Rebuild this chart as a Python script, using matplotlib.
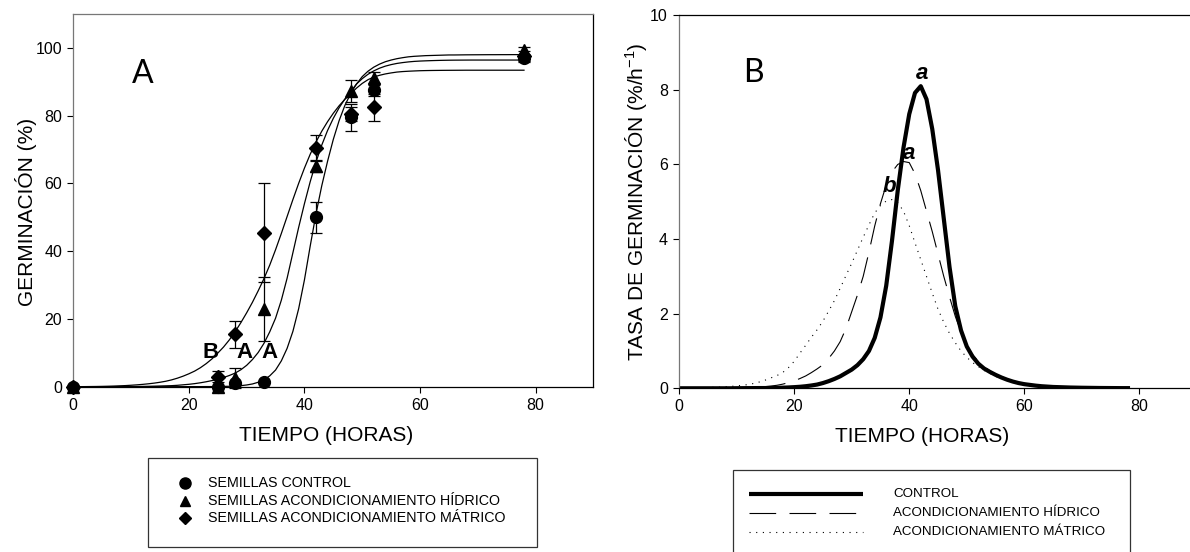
import numpy as np
import matplotlib.pyplot as plt
from matplotlib.lines import Line2D
from matplotlib.patches import Rectangle

plt.rcParams['font.family'] = ['Liberation Sans', 'DejaVu Sans']
plt.rcParams['mathtext.fontset'] = 'custom'
plt.rcParams['mathtext.rm'] = 'Liberation Sans'

# ---- panel A: observed germination (%)
t_obs = [0, 25, 28, 33, 42, 48, 52, 78]
ctrl_obs = [0, 0, 1, 1.5, 50, 79.5, 87.7, 96.9]
ctrl_err = [0, 0, 0, 0, 4.5, 4, 2, 1]
hid_obs = [0, 0, 2.5, 23, 65, 87.3, 91, 99.3]
hid_err = [0, 0, 3, 9.5, 1.5, 3.2, 1.9, 1]
mat_obs = [0, 3, 15.5, 45.5, 70.5, 80.5, 82.5, 97.5]
mat_err = [0, 1.5, 4, 14.6, 3.7, 2, 4, 1.5]

# fitted curves, one value per hour (0..78 h)
horas = list(range(79))
ctrl_fit = [0, 0, 0, 0, 0, 0, 0, 0, 0, 0,
            0, 0, 0, 0, 0, 0, 0, 0, 0, 0.01,
            0.01, 0.02, 0.02, 0.03, 0.03, 0.05, 0.08, 0.12, 0.2, 0.3,
            0.5, 0.8, 1.3, 2.0, 3.2, 4.9, 7.6, 11.3, 16.3, 23,
            31.5, 41.5, 51, 59.3, 66.5, 73, 78.5, 83, 86.5, 89.3,
            91.5, 93.1, 94.3, 95.2, 95.9, 96.4, 96.8, 97.1, 97.35, 97.5,
            97.6, 97.7, 97.75, 97.8, 97.85, 97.9, 97.9, 97.92, 97.94, 97.95,
            97.96, 97.97, 97.98, 97.98, 97.99, 97.99, 98, 98, 98]
hid_fit = [0, 0, 0, 0, 0.01, 0.01, 0.01, 0.02, 0.02, 0.03,
           0.04, 0.06, 0.08, 0.11, 0.15, 0.2, 0.25, 0.3, 0.4, 0.55,
           0.7, 0.9, 1.15, 1.45, 1.8, 2.2, 2.7, 3.3, 4.0, 5.0,
           6.3, 8.0, 10.1, 12.8, 16.2, 20.2, 25.5, 32, 39.5, 47,
           54, 60.5, 66.3, 71.3, 75.6, 79.2, 82.3, 84.9, 87.1, 89.3,
           90.9, 92.2, 93.2, 94.0, 94.6, 95.05, 95.4, 95.65, 95.85, 96.0,
           96.1, 96.17, 96.23, 96.28, 96.32, 96.35, 96.37, 96.38, 96.39, 96.4,
           96.4, 96.4, 96.4, 96.4, 96.4, 96.4, 96.4, 96.4, 96.4]
mat_fit = [0, 0.01, 0.02, 0.04, 0.06, 0.09, 0.13, 0.18, 0.25, 0.32,
           0.42, 0.54, 0.68, 0.85, 1.05, 1.3, 1.6, 2.0, 2.5, 3.1,
           3.8, 4.6, 5.6, 6.8, 8.2, 9.9, 11.7, 13.8, 16.2, 18.9,
           21.8, 24.9, 28.3, 31.9, 35.9, 40.4, 45.2, 50.2, 55.2, 60.0,
           64.5, 68.6, 72.2, 75.4, 78.2, 80.7, 82.9, 84.8, 86.4, 88.1,
           89.5, 90.6, 91.4, 91.9, 92.3, 92.6, 92.85, 93.0, 93.1, 93.18,
           93.25, 93.29, 93.32, 93.34, 93.36, 93.37, 93.38, 93.39, 93.4, 93.4,
           93.4, 93.4, 93.4, 93.4, 93.4, 93.4, 93.4, 93.4, 93.4]

# ---- panel B: germination rate (%/h)
ctrl_rate = [0, 0, 0, 0, 0, 0, 0, 0, 0, 0,
             0.002, 0.003, 0.004, 0.005, 0.006, 0.006, 0.008, 0.012, 0.016, 0.022,
             0.03, 0.04, 0.055, 0.075, 0.1, 0.14, 0.19, 0.25, 0.32, 0.41,
             0.5, 0.62, 0.78, 1.0, 1.35, 1.9, 2.75, 3.95, 5.3, 6.45,
             7.35, 7.92, 8.1, 7.75, 6.95, 5.85, 4.55, 3.25, 2.2, 1.55,
             1.12, 0.85, 0.66, 0.53, 0.44, 0.36, 0.29, 0.23, 0.18, 0.14,
             0.11, 0.09, 0.07, 0.055, 0.045, 0.035, 0.03, 0.025, 0.02, 0.017,
             0.014, 0.012, 0.01, 0.008, 0.007, 0.006, 0.005, 0.004, 0.004]
hid_rate = [0, 0, 0, 0, 0, 0.001, 0.002, 0.003, 0.004, 0.005,
            0.008, 0.012, 0.017, 0.024, 0.033, 0.045, 0.06, 0.08, 0.11, 0.15,
            0.2, 0.26, 0.33, 0.42, 0.52, 0.63, 0.8, 1.0, 1.25, 1.6,
            2.05, 2.5, 3.0, 3.65, 4.35, 4.95, 5.45, 5.8, 6.0, 6.08,
            6.05, 5.75, 5.3, 4.75, 4.2, 3.6, 3.0, 2.45, 1.93, 1.5,
            1.15, 0.9, 0.72, 0.58, 0.47, 0.38, 0.31, 0.25, 0.2, 0.16,
            0.13, 0.1, 0.08, 0.065, 0.05, 0.04, 0.034, 0.028, 0.023, 0.019,
            0.016, 0.013, 0.011, 0.009, 0.008, 0.007, 0.006, 0.005, 0.004]
mat_rate = [0, 0.003, 0.005, 0.008, 0.012, 0.02, 0.025, 0.03, 0.04, 0.05,
            0.065, 0.08, 0.1, 0.13, 0.17, 0.22, 0.28, 0.34, 0.42, 0.55,
            0.72, 0.94, 1.15, 1.37, 1.57, 1.8, 2.07, 2.35, 2.68, 3.02,
            3.35, 3.7, 4.05, 4.38, 4.7, 4.9, 5.02, 5.06, 4.98, 4.75,
            4.36, 3.9, 3.45, 3.0, 2.55, 2.12, 1.77, 1.47, 1.22, 1.0,
            0.83, 0.69, 0.58, 0.48, 0.4, 0.32, 0.26, 0.21, 0.17, 0.14,
            0.11, 0.09, 0.075, 0.062, 0.05, 0.042, 0.035, 0.029, 0.024, 0.02,
            0.017, 0.014, 0.012, 0.01, 0.008, 0.007, 0.006, 0.005, 0.004]

fig = plt.figure(figsize=(11.9, 5.52), dpi=100)

# ================= panel A
ax1 = fig.add_axes([0.0616, 0.2995, 0.4370, 0.6752])
for fit in (ctrl_fit, hid_fit, mat_fit):
    ax1.plot(horas, fit, color='black', lw=0.9, zorder=2)

for y, e, m, ms in ((mat_obs, mat_err, 'D', 7), (hid_obs, hid_err, '^', 8.5),
                    (ctrl_obs, ctrl_err, 'o', 8.5)):
    ax1.errorbar(t_obs, y, yerr=e, fmt=m, ms=ms, color='black', ecolor='black',
                 elinewidth=0.9, capsize=4, capthick=0.9, zorder=3, clip_on=False)

ax1.set_xlim(0, 90)
ax1.set_ylim(0, 110)
ax1.set_xticks([0, 20, 40, 60, 80])
ax1.set_yticks([0, 20, 40, 60, 80, 100])
ax1.set_xlabel('TIEMPO (HORAS)', fontsize=15)
ax1.xaxis.set_label_coords(0.487, -0.105)
ax1.set_ylabel('GERMINACIÓN (%)', fontsize=15)
ax1.yaxis.set_label_coords(-0.07, 0.47)
ax1.text(143 / 1190, 1 - 74 / 552, 'A', transform=fig.transFigure, fontsize=23,
         family=['Lato', 'DejaVu Sans'], ha='center', va='center')
for lx, lab in ((23.8, 'B'), (29.6, 'A'), (33.9, 'A')):
    ax1.text(lx, 10.2, lab, fontsize=16, fontweight='bold', ha='center', va='center', zorder=4)

# ================= panel B
ax2 = fig.add_axes([0.5706, 0.2966, 0.4353, 0.6757])
ax2.plot(horas, ctrl_rate, color='black', lw=3.0, solid_joinstyle='round')
ax2.plot(horas, hid_rate, color='black', lw=0.8, dashes=(24, 12))
ax2.plot(horas, mat_rate, color='black', lw=0.8, dashes=(1, 5))
ax2.set_xlim(0, 90)
ax2.set_ylim(0, 10)
ax2.set_xticks([0, 20, 40, 60, 80])
ax2.set_yticks([0, 2, 4, 6, 8, 10])
ax2.set_xlabel('TIEMPO (HORAS)', fontsize=15)
ax2.xaxis.set_label_coords(0.47, -0.105)
ax2.set_ylabel(r'TASA DE GERMINACIÓN (%/h$\mathregular{^{-1}}$)', fontsize=15)
ax2.yaxis.set_label_coords(-0.058, 0.5)
ax2.spines['right'].set_visible(False)
ax2.text(753 / 1190, 1 - 73 / 552, 'B', transform=fig.transFigure, fontsize=23,
         family=['Lato', 'DejaVu Sans'], ha='center', va='center')
for lx, ly, lab in ((42.2, 8.43, 'a'), (40.0, 6.3, 'a'), (36.5, 5.42, 'b')):
    ax2.text(lx, ly, lab, fontsize=16, fontweight='bold', fontstyle='italic',
             ha='center', va='center')

for ax in (ax1, ax2):
    ax.tick_params(direction='out', length=4, width=0.8, labelsize=11.5, pad=4)
    for s in ax.spines.values():
        s.set_linewidth(0.9)
ax1.spines['top'].set_color('#777777')
ax1.spines['left'].set_color('#777777')
ax2.spines['left'].set_color('#777777')

# ================= legends drawn in figure coordinates
fig.add_artist(Rectangle((0.1246, 0.0096), 0.3264, 0.1601, transform=fig.transFigure,
                         fill=False, edgecolor='#333333', lw=0.9))
leg_a = [('o', 8, 'SEMILLAS CONTROL'), ('^', 7, 'SEMILLAS ACONDICIONAMIENTO HÍDRICO'),
         ('D', 6.5, 'SEMILLAS ACONDICIONAMIENTO MÁTRICO')]
for (m, ms, txt), yy in zip(leg_a, (0.1245, 0.0924, 0.0610)):
    fig.add_artist(Line2D([0.1555], [yy], transform=fig.transFigure, marker=m, ms=ms,
                          color='black', ls='none'))
    fig.text(0.175, yy, txt, fontsize=10.3, va='center', ha='left')

fig.add_artist(Rectangle((0.6162, -0.05), 0.3336, 0.1986, transform=fig.transFigure,
                         fill=False, edgecolor='#333333', lw=0.9))
leg_b = [(dict(lw=3.0, solid_capstyle='butt'), 'CONTROL'),
         (dict(lw=0.8, dashes=(24, 12)), 'ACONDICIONAMIENTO HÍDRICO'),
         (dict(lw=0.8, dashes=(1, 5)), 'ACONDICIONAMIENTO MÁTRICO')]
for (kw, txt), yy in zip(leg_b, (0.1051, 0.0701, 0.0368)):
    fig.add_artist(Line2D([0.6297, 0.7255], [yy, yy], transform=fig.transFigure,
                          color='black', **kw))
    fig.text(0.7507, yy, txt, fontsize=9.6, va='center', ha='left')

fig.savefig('out.png', dpi=100)
